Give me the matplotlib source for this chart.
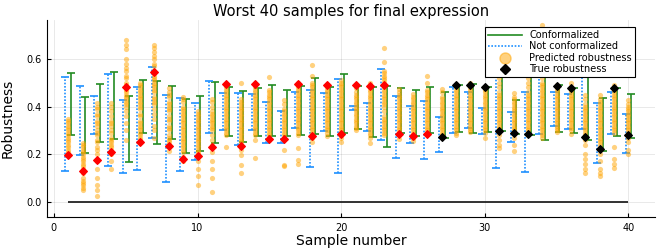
import numpy as np
import matplotlib.pyplot as plt
from matplotlib.lines import Line2D

samples = list(range(1, 41))

# not conformalized interval (low, high)
nc_low = [0.131, 0.198, 0.287, 0.152, 0.123, 0.133, 0.270, 0.085, 0.131, 0.178,
          0.289, 0.302, 0.239, 0.302, 0.246, 0.246, 0.309, 0.145, 0.299, 0.120,
          0.387, 0.298, 0.260, 0.183, 0.246, 0.180, 0.211, 0.288, 0.309, 0.285,
          0.141, 0.250, 0.127, 0.284, 0.320, 0.306, 0.306, 0.162, 0.284, 0.207]
nc_high = [0.526, 0.488, 0.444, 0.535, 0.428, 0.482, 0.565, 0.449, 0.435, 0.416,
           0.507, 0.456, 0.458, 0.451, 0.418, 0.383, 0.460, 0.471, 0.456, 0.516,
           0.404, 0.416, 0.558, 0.446, 0.404, 0.423, 0.355, 0.484, 0.463, 0.396,
           0.600, 0.379, 0.460, 0.620, 0.463, 0.453, 0.580, 0.414, 0.460, 0.368]

# conformalized interval (low, high)
c_low = [0.281, 0.204, 0.252, 0.263, 0.169, 0.288, 0.242, 0.263, 0.204, 0.214,
         0.247, 0.277, 0.250, 0.278, 0.278, 0.277, 0.281, 0.284, 0.275, 0.291,
         0.305, 0.271, 0.232, 0.288, 0.278, 0.288, 0.270, 0.292, 0.288, 0.295,
         0.298, 0.285, 0.280, 0.259, 0.292, 0.288, 0.260, 0.215, 0.278, 0.270]
c_high = [0.542, 0.442, 0.495, 0.546, 0.443, 0.513, 0.509, 0.485, 0.430, 0.443,
          0.505, 0.482, 0.465, 0.477, 0.492, 0.471, 0.486, 0.520, 0.484, 0.537,
          0.485, 0.484, 0.488, 0.477, 0.471, 0.481, 0.460, 0.492, 0.495, 0.482,
          0.560, 0.428, 0.530, 0.580, 0.490, 0.479, 0.560, 0.437, 0.479, 0.454]

true_rob = [0.198, 0.130, 0.178, 0.208, 0.484, 0.253, 0.544, 0.236, 0.180, 0.191,
            0.231, 0.496, 0.236, 0.493, 0.263, 0.264, 0.496, 0.277, 0.492, 0.284,
            0.491, 0.486, 0.492, 0.284, 0.275, 0.285, 0.273, 0.489, 0.491, 0.481,
            0.299, 0.289, 0.284, 0.560, 0.486, 0.477, 0.271, 0.222, 0.477, 0.281]

predicted = [
    [0.348, 0.34, 0.33, 0.32, 0.31, 0.30, 0.29, 0.28, 0.27, 0.26, 0.25, 0.24, 0.23, 0.22, 0.21, 0.20],
    [0.249, 0.24, 0.23, 0.22, 0.21, 0.20, 0.19, 0.18, 0.17, 0.16, 0.15, 0.14, 0.12, 0.10, 0.09, 0.08, 0.07, 0.06, 0.05],
    [0.414, 0.40, 0.39, 0.37, 0.36, 0.34, 0.33, 0.32, 0.30, 0.29, 0.28, 0.26, 0.25, 0.23, 0.22, 0.20, 0.17, 0.14, 0.10, 0.07, 0.05, 0.025],
    [0.414, 0.40, 0.38, 0.36, 0.34, 0.33, 0.32, 0.30, 0.29, 0.27, 0.26, 0.25, 0.24, 0.23, 0.22, 0.21, 0.20, 0.17, 0.14],
    [0.679, 0.66, 0.64, 0.60, 0.58, 0.56, 0.55, 0.53, 0.52, 0.50, 0.49, 0.47, 0.46, 0.45, 0.44, 0.43, 0.42, 0.41, 0.40, 0.38, 0.36, 0.33, 0.30, 0.26],
    [0.497, 0.49, 0.48, 0.47, 0.46, 0.45, 0.44, 0.43, 0.42, 0.41, 0.40, 0.39, 0.37, 0.36, 0.34, 0.33, 0.32, 0.31, 0.30, 0.29, 0.28, 0.27, 0.26, 0.25],
    [0.658, 0.645, 0.63, 0.61, 0.60, 0.58, 0.57, 0.55, 0.54, 0.53, 0.52, 0.51, 0.50, 0.49, 0.48, 0.47, 0.46, 0.44, 0.43, 0.42, 0.41, 0.39, 0.37, 0.35, 0.32, 0.30, 0.27],
    [0.479, 0.46, 0.45, 0.44, 0.42, 0.41, 0.40, 0.39, 0.38, 0.36, 0.35, 0.34, 0.32, 0.31, 0.30, 0.28, 0.27, 0.26, 0.25, 0.24, 0.23, 0.214],
    [0.44, 0.43, 0.42, 0.40, 0.39, 0.38, 0.37, 0.36, 0.35, 0.34, 0.33, 0.32, 0.31, 0.30, 0.29, 0.28, 0.27, 0.26, 0.25, 0.24, 0.23, 0.22, 0.21, 0.19, 0.17],
    [0.38, 0.37, 0.36, 0.35, 0.34, 0.33, 0.32, 0.31, 0.30, 0.29, 0.28, 0.27, 0.26, 0.25, 0.24, 0.23, 0.22, 0.21, 0.20, 0.17, 0.14, 0.11, 0.07],
    [0.43, 0.42, 0.40, 0.38, 0.37, 0.36, 0.35, 0.34, 0.33, 0.32, 0.31, 0.30, 0.28, 0.26, 0.24, 0.21, 0.17, 0.14, 0.10, 0.04],
    [0.49, 0.48, 0.47, 0.46, 0.45, 0.44, 0.43, 0.42, 0.41, 0.40, 0.39, 0.38, 0.37, 0.36, 0.35, 0.34, 0.33, 0.32, 0.31, 0.30, 0.29, 0.28, 0.23],
    [0.497, 0.43, 0.42, 0.41, 0.40, 0.39, 0.38, 0.37, 0.36, 0.35, 0.34, 0.33, 0.32, 0.31, 0.30, 0.29, 0.28, 0.27, 0.26, 0.25, 0.22, 0.197, 0.155, 0.12],
    [0.484, 0.47, 0.46, 0.45, 0.44, 0.43, 0.42, 0.41, 0.40, 0.39, 0.38, 0.37, 0.36, 0.35, 0.34, 0.33, 0.32, 0.31, 0.30, 0.29, 0.28, 0.26, 0.183],
    [0.526, 0.47, 0.46, 0.45, 0.44, 0.43, 0.42, 0.41, 0.40, 0.39, 0.38, 0.37, 0.36, 0.35, 0.34, 0.33, 0.32, 0.31, 0.30, 0.29, 0.28, 0.27, 0.26],
    [0.428, 0.41, 0.39, 0.38, 0.37, 0.36, 0.35, 0.34, 0.33, 0.32, 0.31, 0.30, 0.29, 0.28, 0.22, 0.155, 0.15],
    [0.497, 0.49, 0.48, 0.47, 0.46, 0.45, 0.44, 0.43, 0.42, 0.41, 0.40, 0.39, 0.38, 0.37, 0.36, 0.35, 0.34, 0.33, 0.32, 0.31, 0.30, 0.29, 0.28, 0.225, 0.175, 0.158],
    [0.576, 0.527, 0.50, 0.49, 0.48, 0.47, 0.46, 0.45, 0.44, 0.43, 0.42, 0.41, 0.40, 0.39, 0.38, 0.37, 0.36, 0.35, 0.34, 0.33, 0.32, 0.31, 0.30, 0.29, 0.28, 0.27, 0.253],
    [0.484, 0.47, 0.46, 0.45, 0.44, 0.43, 0.42, 0.41, 0.40, 0.39, 0.38, 0.37, 0.36, 0.35, 0.34, 0.33, 0.32, 0.31, 0.30, 0.29, 0.278],
    [0.512, 0.50, 0.49, 0.48, 0.47, 0.46, 0.45, 0.44, 0.43, 0.42, 0.41, 0.40, 0.39, 0.38, 0.37, 0.36, 0.35, 0.34, 0.33, 0.32, 0.31, 0.30, 0.29, 0.28, 0.27, 0.253],
    [0.477, 0.46, 0.45, 0.44, 0.43, 0.42, 0.41, 0.40, 0.39, 0.38, 0.37, 0.36, 0.35, 0.34, 0.33, 0.32, 0.31, 0.302],
    [0.497, 0.48, 0.47, 0.46, 0.45, 0.44, 0.43, 0.42, 0.41, 0.40, 0.39, 0.38, 0.37, 0.36, 0.35, 0.34, 0.33, 0.32, 0.31, 0.30, 0.29, 0.28, 0.27, 0.246],
    [0.647, 0.588, 0.55, 0.54, 0.53, 0.52, 0.51, 0.50, 0.49, 0.48, 0.47, 0.46, 0.45, 0.44, 0.43, 0.42, 0.41, 0.40, 0.38, 0.36, 0.35, 0.34, 0.33, 0.32, 0.31, 0.30, 0.29, 0.281],
    [0.474, 0.46, 0.45, 0.44, 0.43, 0.42, 0.41, 0.40, 0.39, 0.38, 0.37, 0.36, 0.35, 0.34, 0.33, 0.32, 0.31, 0.30, 0.29, 0.28, 0.264],
    [0.451, 0.44, 0.43, 0.42, 0.41, 0.40, 0.39, 0.38, 0.37, 0.36, 0.35, 0.34, 0.33, 0.32, 0.31, 0.30, 0.29, 0.28, 0.27, 0.256],
    [0.53, 0.50, 0.47, 0.46, 0.45, 0.44, 0.43, 0.42, 0.41, 0.40, 0.39, 0.38, 0.37, 0.36, 0.35, 0.34, 0.33, 0.32, 0.31, 0.30, 0.285],
    [0.474, 0.46, 0.44, 0.43, 0.42, 0.41, 0.40, 0.39, 0.38, 0.37, 0.36, 0.35, 0.34, 0.33, 0.32, 0.31, 0.30, 0.29, 0.281],
    [0.484, 0.47, 0.46, 0.45, 0.44, 0.43, 0.42, 0.41, 0.40, 0.39, 0.38, 0.37, 0.36, 0.35, 0.34, 0.33, 0.32, 0.31, 0.30, 0.29, 0.281],
    [0.497, 0.49, 0.48, 0.47, 0.46, 0.45, 0.44, 0.43, 0.42, 0.41, 0.40, 0.39, 0.38, 0.37, 0.36, 0.35, 0.34, 0.33, 0.32, 0.31, 0.30, 0.295],
    [0.484, 0.47, 0.46, 0.45, 0.44, 0.43, 0.42, 0.41, 0.40, 0.39, 0.38, 0.37, 0.36, 0.35, 0.34, 0.33, 0.32, 0.31, 0.30, 0.29, 0.267],
    [0.55, 0.52, 0.50, 0.48, 0.46, 0.45, 0.44, 0.43, 0.42, 0.41, 0.40, 0.39, 0.38, 0.37, 0.36, 0.35, 0.34, 0.33, 0.32, 0.31, 0.30, 0.28, 0.26, 0.24, 0.225],
    [0.456, 0.44, 0.43, 0.42, 0.41, 0.40, 0.39, 0.38, 0.37, 0.36, 0.35, 0.34, 0.33, 0.32, 0.31, 0.30, 0.29, 0.27, 0.24, 0.214],
    [0.60, 0.55, 0.52, 0.50, 0.48, 0.46, 0.45, 0.44, 0.43, 0.42, 0.41, 0.40, 0.39, 0.38, 0.37, 0.36, 0.35, 0.34, 0.33, 0.32, 0.31, 0.30, 0.29, 0.28],
    [0.742, 0.70, 0.66, 0.62, 0.60, 0.58, 0.56, 0.54, 0.52, 0.50, 0.49, 0.48, 0.47, 0.46, 0.45, 0.44, 0.43, 0.42, 0.41, 0.40, 0.39, 0.38, 0.37, 0.36, 0.35, 0.34, 0.33, 0.32, 0.31, 0.30, 0.29, 0.28, 0.267],
    [0.49, 0.48, 0.47, 0.46, 0.45, 0.44, 0.43, 0.42, 0.41, 0.40, 0.39, 0.38, 0.37, 0.36, 0.35, 0.34, 0.33, 0.32, 0.31, 0.30, 0.295],
    [0.497, 0.48, 0.47, 0.46, 0.45, 0.44, 0.43, 0.42, 0.41, 0.40, 0.39, 0.38, 0.37, 0.36, 0.35, 0.34, 0.33, 0.32, 0.31, 0.30, 0.285],
    [0.449, 0.43, 0.41, 0.40, 0.39, 0.38, 0.37, 0.36, 0.35, 0.34, 0.33, 0.32, 0.31, 0.30, 0.29, 0.28, 0.27, 0.26, 0.24, 0.20, 0.18, 0.16, 0.14, 0.12],
    [0.449, 0.43, 0.42, 0.41, 0.40, 0.39, 0.38, 0.37, 0.36, 0.35, 0.34, 0.33, 0.32, 0.31, 0.30, 0.29, 0.28, 0.27, 0.26, 0.25, 0.24, 0.22, 0.20, 0.17, 0.14, 0.12, 0.11],
    [0.49, 0.48, 0.47, 0.46, 0.45, 0.44, 0.43, 0.42, 0.41, 0.40, 0.39, 0.38, 0.37, 0.36, 0.35, 0.34, 0.33, 0.32, 0.31, 0.30, 0.29, 0.23, 0.18, 0.16, 0.144],
    [0.428, 0.41, 0.40, 0.39, 0.38, 0.37, 0.36, 0.35, 0.34, 0.33, 0.32, 0.31, 0.30, 0.29, 0.28, 0.27, 0.25, 0.22, 0.20],
]

x = np.array(samples, dtype=float)
nc_low = np.array(nc_low)
nc_high = np.array(nc_high)
c_low = np.array(c_low)
c_high = np.array(c_high)
true_rob = np.array(true_rob)
outside = (true_rob < c_low) | (true_rob > c_high)

fig = plt.figure(figsize=(6.64, 2.49), dpi=100)
ax = fig.add_axes([47 / 664, 32 / 249, 608 / 664, 197 / 249])

ax.hlines(0, samples[0], samples[-1], color='#222222', lw=1.3, zorder=1)

# conformalized intervals
ax.errorbar(x + 0.2, c_low, yerr=[np.zeros(len(x)), c_high - c_low], fmt='none',
            ecolor='#228b22', elinewidth=1.2, capsize=3, capthick=1.2, zorder=2)
# not conformalized intervals
eb = ax.errorbar(x - 0.2, nc_low, yerr=[np.zeros(len(x)), nc_high - nc_low], fmt='none',
                 ecolor='#1e90ff', elinewidth=1.2, capsize=3, capthick=1.2, zorder=2)
eb[2][0].set_linestyle((0, (1, 1)))

for i, p in zip(samples, predicted):
    ax.scatter([i] * len(p), p, s=14, color='#ffa500', alpha=0.5, linewidths=0, zorder=3)

ax.scatter(x[~outside], true_rob[~outside], marker='D', s=15, color='black', zorder=5)
ax.scatter(x[outside], true_rob[outside], marker='D', s=15, color='red', zorder=5)

ax.set_xlim(-0.48, 41.85)
ax.set_ylim(-0.063, 0.763)
ax.set_xticks([0, 10, 20, 30, 40])
ax.set_yticks([0.0, 0.2, 0.4, 0.6])
ax.set_yticklabels(['0.0', '0.2', '0.4', '0.6'])
ax.grid(True, color='black', alpha=0.1, lw=0.6)
ax.set_axisbelow(True)
for s in ['top', 'right']:
    ax.spines[s].set_visible(False)
ax.tick_params(direction='in', length=3, labelsize=7, pad=4)

ax.set_title('Worst 40 samples for final expression', fontsize=10.5, pad=3)
ax.set_xlabel('Sample number', fontsize=10, labelpad=1)
ax.set_ylabel('Robustness', fontsize=10, labelpad=8)

handles = [
    Line2D([], [], color='#228b22', lw=1.2),
    Line2D([], [], color='#1e90ff', lw=1.2, linestyle=(0, (1, 1))),
    Line2D([], [], marker='o', color='#ffa500', alpha=0.5, lw=0, markersize=8),
    Line2D([], [], marker='D', color='black', lw=0, markersize=5),
]
labels = ['Conformalized', 'Not conformalized', 'Predicted robustness', 'True robustness']
leg = ax.legend(handles, labels, loc='upper right', bbox_to_anchor=(0.967, 0.964),
                fontsize=7, frameon=True, fancybox=False, framealpha=1,
                edgecolor='black', borderaxespad=0, handlelength=3.5,
                labelspacing=0.15, borderpad=0.3, handletextpad=0.8)
leg.get_frame().set_linewidth(0.8)

plt.savefig('out.png', dpi=100)
